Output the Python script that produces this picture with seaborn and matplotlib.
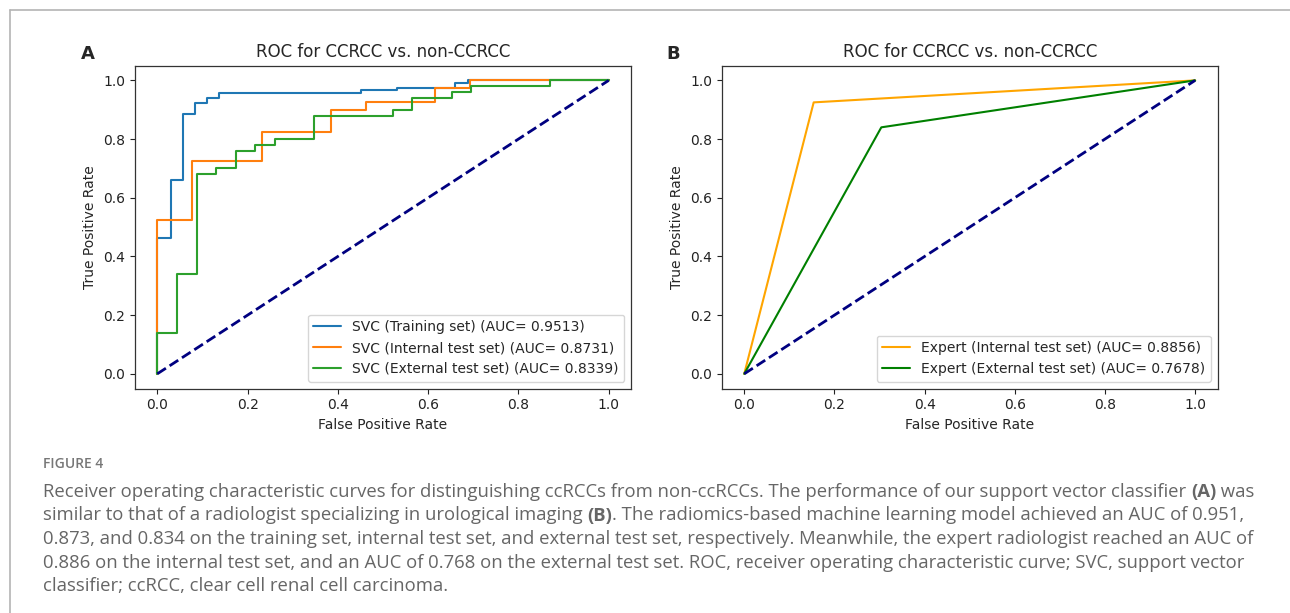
import numpy as np
import pandas as pd
import matplotlib
matplotlib.use("Agg")
import matplotlib.pyplot as plt
from matplotlib.lines import Line2D
import seaborn as sns

# ---------------- data ----------------
train_fpr = [0, 0, 0.031, 0.031, 0.057, 0.057, 0.083, 0.083, 0.110, 0.110, 0.136, 0.136,
             0.451, 0.451, 0.530, 0.530, 0.659, 0.659, 0.688, 0.688, 1.0]
train_tpr = [0, 0.463, 0.463, 0.662, 0.662, 0.884, 0.884, 0.924, 0.924, 0.941, 0.941, 0.958,
             0.958, 0.966, 0.966, 0.974, 0.974, 0.991, 0.991, 1.0, 1.0]

internal_fpr = [0, 0, 0.077, 0.077, 0.231, 0.231, 0.385, 0.385, 0.462, 0.462, 0.615, 0.615,
                0.692, 0.692, 1.0]
internal_tpr = [0, 0.525, 0.525, 0.725, 0.725, 0.825, 0.825, 0.900, 0.900, 0.925, 0.925, 0.975,
                0.975, 1.0, 1.0]

external_fpr = [0, 0, 0.043, 0.043, 0.087, 0.087, 0.130, 0.130, 0.174, 0.174, 0.217, 0.217,
                0.261, 0.261, 0.348, 0.348, 0.522, 0.522, 0.565, 0.565, 0.652, 0.652, 0.696,
                0.696, 0.870, 0.870, 1.0]
external_tpr = [0, 0.14, 0.14, 0.34, 0.34, 0.68, 0.68, 0.70, 0.70, 0.76, 0.76, 0.78, 0.78,
                0.80, 0.80, 0.88, 0.88, 0.90, 0.90, 0.94, 0.94, 0.96, 0.96, 0.98, 0.98, 1.0, 1.0]

expert_int_fpr = [0, 0.154, 1.0]
expert_int_tpr = [0, 0.925, 1.0]
expert_ext_fpr = [0, 0.304, 1.0]
expert_ext_tpr = [0, 0.840, 1.0]

chance = [0, 1]

svc_labels = ["SVC (Training set) (AUC= 0.9513)",
              "SVC (Internal test set) (AUC= 0.8731)",
              "SVC (External test set) (AUC= 0.8339)"]
expert_labels = ["Expert (Internal test set) (AUC= 0.8856)",
                 "Expert (External test set) (AUC= 0.7678)"]
title = "ROC for CCRCC vs. non-CCRCC"

caption_head = "FIGURE 4"
caption_lines = [
    [("Receiver operating characteristic curves for distinguishing ccRCCs from non-ccRCCs. The performance of our support vector classifier ", "normal"),
     ("(A)", "bold"), (" was", "normal")],
    [("similar to that of a radiologist specializing in urological imaging ", "normal"), ("(B)", "bold"),
     (". The radiomics-based machine learning model achieved an AUC of 0.951,", "normal")],
    [("0.873, and 0.834 on the training set, internal test set, and external test set, respectively. Meanwhile, the expert radiologist reached an AUC of", "normal")],
    [("0.886 on the internal test set, and an AUC of 0.768 on the external test set. ROC, receiver operating characteristic curve; SVC, support vector", "normal")],
    [("classifier; ccRCC, clear cell renal cell carcinoma.", "normal")],
]

# ---------------- figure ----------------
sns.set_style("white")
plt.rcParams["font.family"] = ["DejaVu Sans"]
plt.rcParams["axes.edgecolor"] = "#333333"
plt.rcParams["xtick.bottom"] = True
plt.rcParams["ytick.left"] = True
plt.rcParams["xtick.color"] = "#222222"
plt.rcParams["ytick.color"] = "#222222"

W, H = 1290, 613
fig = plt.figure(figsize=(W / 100, H / 100), dpi=100)
fig.patch.set_facecolor("white")

def fx(px):
    return px / W

def fy(py):
    return 1 - py / H

ax_bottom = fy(388.5)
ax_h = fy(65.7) - ax_bottom
axA = fig.add_axes([fx(134.7), ax_bottom, fx(496.6), ax_h])
axB = fig.add_axes([fx(721.7), ax_bottom, fx(496.0), ax_h])

for x, y, lab, c in [(train_fpr, train_tpr, svc_labels[0], "tab:blue"),
                     (internal_fpr, internal_tpr, svc_labels[1], "tab:orange"),
                     (external_fpr, external_tpr, svc_labels[2], "tab:green")]:
    sns.lineplot(x=x, y=y, ax=axA, color=c, lw=1.5, label=lab,
                 estimator=None, sort=False)
sns.lineplot(x=chance, y=chance, ax=axA, color="navy", lw=2, linestyle="--",
             estimator=None, sort=False)

for x, y, lab, c in [(expert_int_fpr, expert_int_tpr, expert_labels[0], "orange"),
                     (expert_ext_fpr, expert_ext_tpr, expert_labels[1], "green")]:
    sns.lineplot(x=x, y=y, ax=axB, color=c, lw=1.5, label=lab,
                 estimator=None, sort=False)
sns.lineplot(x=chance, y=chance, ax=axB, color="navy", lw=2, linestyle="--",
             estimator=None, sort=False)

for ax in (axA, axB):
    ax.set_xlim(-0.05, 1.05)
    ax.set_ylim(-0.05, 1.05)
    ax.set_xticks([0, 0.2, 0.4, 0.6, 0.8, 1.0])
    ax.set_yticks([0, 0.2, 0.4, 0.6, 0.8, 1.0])
    ax.tick_params(direction="out", length=3.5, width=0.8, labelsize=10)
    ax.set_xlabel("False Positive Rate", fontsize=10)
    ax.set_ylabel("True Positive Rate", fontsize=10)
    ax.set_title(title, fontsize=12)
    for s in ax.spines.values():
        s.set_linewidth(0.9)
        s.set_color("#333333")
    leg = ax.legend(loc="lower right", fontsize=10, frameon=True)
    leg.get_frame().set_edgecolor("#cccccc")

fig.text(fx(81), fy(59), "A", fontsize=13, fontweight="bold", ha="left", va="baseline")
fig.text(fx(666), fy(59), "B", fontsize=13, fontweight="bold", ha="left", va="baseline")

# page border lines
fig.add_artist(Line2D([fx(10), 1], [fy(10), fy(10)], color="#b4b4b4", lw=1.2))
fig.add_artist(Line2D([fx(10), fx(10)], [fy(10), 0], color="#b4b4b4", lw=1.2))

# ---------------- caption ----------------
cap_font = "Open Sans"
cap_color = "#666666"
renderer = fig.canvas.get_renderer()

def line_width(segs, size):
    total = 0
    for txt, wt in segs:
        t = fig.text(0, 0, txt, fontsize=size, family=cap_font, fontweight=wt)
        total += t.get_window_extent(renderer).width
        t.remove()
    return total

base = 11.0
w0 = line_width(caption_lines[0], base)
cap_size = base * (1212.0 / w0)

left_px = 43
y_centers = [490, 513.5, 537, 560.5, 584]
for segs, yc in zip(caption_lines, y_centers):
    xpos = left_px
    for txt, wt in segs:
        t = fig.text(fx(xpos), fy(yc), txt, fontsize=cap_size, family=cap_font,
                     fontweight=wt, color=cap_color, ha="left", va="center_baseline")
        xpos += t.get_window_extent(renderer).width

fig.text(fx(43), fy(463), caption_head, fontsize=10, family=cap_font,
         fontweight="semibold", color="#777777", ha="left", va="center_baseline")

fig.savefig("out.png", dpi=100)
